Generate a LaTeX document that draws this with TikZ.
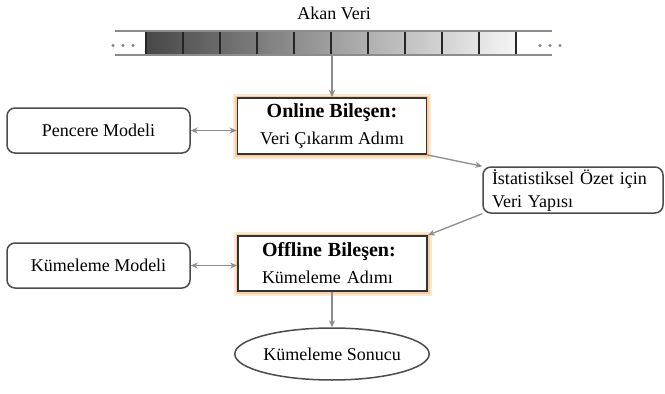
\documentclass[tikz,border=0pt]{standalone}
\usepackage{fontspec}
\setmainfont{Liberation Serif}
\usetikzlibrary{arrows.meta,shapes.geometric}
\definecolor{dotc}{RGB}{120,130,150}
\definecolor{glow}{RGB}{248,206,160}
\definecolor{glowsoft}{RGB}{252,232,208}
\begin{document}
\begin{tikzpicture}[x=1pt,y=-1pt,
  conn/.style={draw=black!45, line width=1.3pt, -{Stealth[length=7pt,width=6pt]}},
  dconn/.style={draw=black!45, line width=1.3pt, {Stealth[length=7pt,width=6pt]}-{Stealth[length=7pt,width=6pt]}},
  rbox/.style={draw=black!70, line width=1.5pt, rounded corners=8pt, minimum width=183pt, minimum height=45pt, inner sep=0pt, font=\fontsize{18}{22}\selectfont},
  gbox/.style={draw=black!80, line width=1.8pt, preaction={draw=glowsoft, line width=9pt}, preaction={draw=glow, line width=5pt}, fill=white, minimum width=189pt, minimum height=56pt, inner sep=0pt, font=\fontsize{18}{27}\selectfont},
  ebox/.style={ellipse, draw=black!70, line width=1.5pt, minimum width=175pt, minimum height=52pt, inner sep=0pt, font=\fontsize{18}{22}\selectfont},
  lbl/.style={font=\fontsize{18}{22}\selectfont, inner sep=0pt}
]
\useasboundingbox (0,0) rectangle (665,394);

% stream
\node[lbl] (akan) at (334,13) {Akan Veri};
\foreach \i in {0,...,9} {
  \pgfmathsetmacro\lc{72-6.8*\i}
  \pgfmathsetmacro\rc{\lc-7}
  \shade[left color=black!\lc, right color=black!\rc] (146+37*\i,31) rectangle (183+37*\i,54);
}
\foreach \k in {0,...,10} \draw[black!85, line width=2.4pt] (146+37*\k,31) -- (146+37*\k,54);
\draw[black!45, line width=2pt] (115,30.5) -- (552,30.5);
\draw[black!45, line width=2pt] (115,54.5) -- (552,54.5);
\foreach \x in {113,123,133,540,550,560} \fill[dotc] (\x,45.5) circle (1.6pt);
\coordinate (barbot) at (332,55.5);

% nodes
\node[gbox, align=center] (online) at (332,126) {{\bfseries\fontsize{20}{27}\selectfont Online Bileşen:}\\Veri Çıkarım Adımı};
\node[rbox] (pencere) at (98.5,130.5) {Pencere Modeli};
\node[rbox, minimum width=180pt, minimum height=46pt, text width=162pt, inner xsep=9pt, align=left, font=\fontsize{18}{23}\selectfont] (stat) at (573,190) {İstatistiksel Özet için\\Veri Yapısı};
\node[gbox, minimum height=55pt, text width=141pt, align=left] (offline) at (332.5,263.5) {{\bfseries\fontsize{20}{27}\selectfont Offline Bileşen:}\\Kümeleme Adımı};
\node[rbox] (kmodel) at (98.5,265.5) {Kümeleme Modeli};
\node[ebox] (sonuc) at (332,354) {Kümeleme Sonucu};

% connectors
\draw[conn] (barbot) -- (barbot |- online.north);
\draw[dconn] (pencere.east) -- (pencere.east -| online.west);
\draw[conn] (online.south east) -- (stat.north west);
\draw[conn] (stat.south west) -- (offline.north east);
\draw[dconn] (kmodel.east) -- (kmodel.east -| offline.west);
\draw[conn] (offline.south -| sonuc.north) -- (sonuc.north);
\end{tikzpicture}
\end{document}
